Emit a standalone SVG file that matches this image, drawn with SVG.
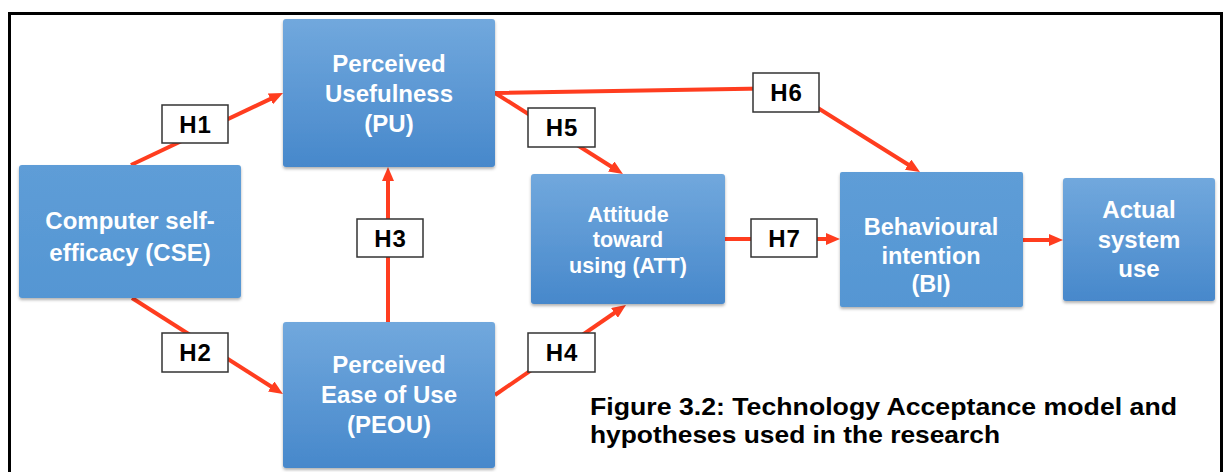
<svg xmlns="http://www.w3.org/2000/svg" width="1230" height="472" viewBox="0 0 1230 472">
  <defs>
    <linearGradient id="gBlue" x1="0" y1="0" x2="0" y2="1">
      <stop offset="0" stop-color="#71a8dd"/>
      <stop offset="1" stop-color="#4788cb"/>
    </linearGradient>
    <linearGradient id="gFlat" x1="0" y1="0" x2="0" y2="1">
      <stop offset="0" stop-color="#5e9dd7"/>
      <stop offset="1" stop-color="#5596d3"/>
    </linearGradient>
    <filter id="sh" x="-10%" y="-10%" width="120%" height="125%">
      <feDropShadow dx="0" dy="2" stdDeviation="1.5" flood-color="#000" flood-opacity="0.3"/>
    </filter>
    <marker id="arr" viewBox="0 0 14 12" markerUnits="userSpaceOnUse" markerWidth="14" markerHeight="12" refX="6" refY="6" orient="auto">
      <path d="M0,0 L14,6 L0,12 z" fill="#ff3d1f"/>
    </marker>
    <style>
      .node { filter: url(#sh); }
      .nt { font-family: "Liberation Sans", Arial, sans-serif; font-weight: bold; fill: #ffffff; text-anchor: middle; }
      .lb { fill: #ffffff; stroke: #333333; stroke-width: 1.5; }
      .lt { font-family: "Liberation Sans", Arial, sans-serif; font-weight: bold; font-size: 24px; fill: #000000; text-anchor: middle; letter-spacing: 1px; }
      .cn { fill: none; stroke: #ff3d1f; stroke-width: 4; marker-end: url(#arr); }
      .cap { font-family: "Liberation Sans", Arial, sans-serif; font-weight: bold; font-size: 24px; fill: #000000; }
    </style>
  </defs>
  <rect width="1230" height="472" fill="#ffffff"/>
  <path d="M9.5,472 V13.5 H1221.5 V472" fill="none" stroke="#000000" stroke-width="3"/>

  <g id="connectors">
    <path class="cn" d="M131,165 L275.8,96.4"/>
    <path class="cn" d="M132,298 L276.2,389.7"/>
    <path class="cn" d="M388,322 L388,175"/>
    <path class="cn" d="M495,395 L619.4,309.5"/>
    <path class="cn" d="M495,93 L616.2,169.7"/>
    <path class="cn" d="M495,93 L786,88 L913.2,167.8"/>
    <path class="cn" d="M725,239 L832,239"/>
    <path class="cn" d="M1023,240 L1055,240"/>
  </g>

  <g id="node-cse">
    <rect class="node" x="19" y="165" width="222" height="133" rx="3" fill="url(#gFlat)"/>
    <text class="nt" font-size="24" x="130" y="229">Computer self-</text>
    <text class="nt" font-size="24" x="130" y="261">efficacy (CSE)</text>
  </g>
  <g id="node-pu">
    <rect class="node" x="283" y="19" width="212" height="148" rx="3" fill="url(#gBlue)"/>
    <text class="nt" font-size="24" x="389" y="72">Perceived</text>
    <text class="nt" font-size="24" x="389" y="102">Usefulness</text>
    <text class="nt" font-size="24" x="389" y="132">(PU)</text>
  </g>
  <g id="node-peou">
    <rect class="node" x="283" y="322" width="212" height="146" rx="3" fill="url(#gBlue)"/>
    <text class="nt" font-size="24" x="389" y="373">Perceived</text>
    <text class="nt" font-size="24" x="389" y="403">Ease of Use</text>
    <text class="nt" font-size="24" x="389" y="433">(PEOU)</text>
  </g>
  <g id="node-att">
    <rect class="node" x="531" y="174" width="194" height="130" rx="3" fill="url(#gBlue)"/>
    <text class="nt" font-size="21.5" x="628" y="222">Attitude</text>
    <text class="nt" font-size="21.5" x="628" y="247">toward</text>
    <text class="nt" font-size="21.5" x="628" y="273">using (ATT)</text>
  </g>
  <g id="node-bi">
    <rect class="node" x="840" y="172" width="183" height="135" rx="2" fill="url(#gFlat)"/>
    <text class="nt" font-size="23.5" x="931" y="235">Behavioural</text>
    <text class="nt" font-size="23.5" x="931" y="264">intention</text>
    <text class="nt" font-size="23.5" x="931" y="292">(BI)</text>
  </g>
  <g id="node-use">
    <rect class="node" x="1063" y="178" width="152" height="123" rx="3" fill="url(#gBlue)"/>
    <text class="nt" font-size="24" x="1139" y="218">Actual</text>
    <text class="nt" font-size="24" x="1139" y="248">system</text>
    <text class="nt" font-size="24" x="1139" y="277">use</text>
  </g>

  <g id="label-h1"><rect class="lb" x="162" y="105" width="66" height="38"/><text class="lt" x="195.5" y="132.5">H1</text></g>
  <g id="label-h2"><rect class="lb" x="162" y="333" width="66" height="39"/><text class="lt" x="195.5" y="361">H2</text></g>
  <g id="label-h3"><rect class="lb" x="357" y="219" width="66" height="38"/><text class="lt" x="390.5" y="246.5">H3</text></g>
  <g id="label-h4"><rect class="lb" x="528" y="333" width="67" height="39"/><text class="lt" x="562" y="361">H4</text></g>
  <g id="label-h5"><rect class="lb" x="528" y="108" width="67" height="39"/><text class="lt" x="562" y="136">H5</text></g>
  <g id="label-h6"><rect class="lb" x="753" y="73" width="66" height="39"/><text class="lt" x="786.5" y="101">H6</text></g>
  <g id="label-h7"><rect class="lb" x="751" y="219" width="66" height="38"/><text class="lt" x="784.5" y="246.5">H7</text></g>

  <g id="caption">
    <text class="cap" x="590" y="415" textLength="587" lengthAdjust="spacingAndGlyphs">Figure 3.2: Technology Acceptance model and</text>
    <text class="cap" x="590" y="443" textLength="410" lengthAdjust="spacingAndGlyphs">hypotheses used in the research</text>
  </g>
</svg>
